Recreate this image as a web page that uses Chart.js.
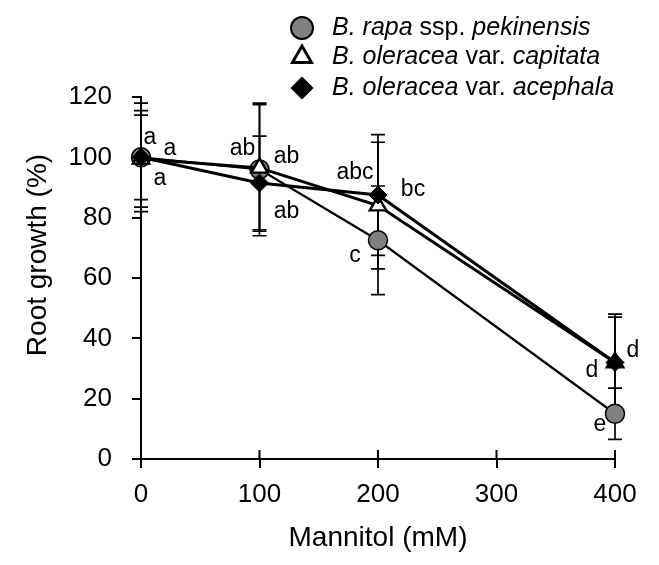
<!DOCTYPE html>
<html>
<head>
<meta charset="utf-8">
<script src="https://cdn.jsdelivr.net/npm/chart.js@4.4.1/dist/chart.umd.min.js"></script>
<style>
  html, body { margin: 0; padding: 0; background: #fff; }
  #wrap { width: 659px; height: 565px; }
</style>
</head>
<body>
<div id="wrap"><canvas id="chart" width="659" height="565"></canvas></div>
<script>
'use strict';

// data (root growth % vs mannitol mM)
const mannitol = [0, 100, 200, 400];
const xTicks = [0, 100, 200, 300, 400];
const yTicks = [0, 20, 40, 60, 80, 100, 120];

const rapaMean = [100, 96, 72.5, 15];
const rapaErr  = [18, 22, 18, 8.5];
const rapaLetters = ['a', 'ab', 'c', 'e'];

const capitataMean = [99.5, 96.5, 84, 32];
const capitataErr  = [16, 21, 21, 16];
const capitataLetters = ['a', 'ab', 'abc', 'd'];

const acephalaMean = [100, 91.5, 87.5, 32];
const acephalaErr  = [14, 15.5, 20, 15];
const acephalaLetters = ['a', 'ab', 'bc', 'd'];

// legend text pieces: [text, italic]
const rapaName     = [['B. rapa', true], [' ssp. ', false], ['pekinensis', true]];
const capitataName = [['B. oleracea', true], [' var. ', false], ['capitata', true]];
const acephalaName = [['B. oleracea', true], [' var. ', false], ['acephala', true]];

const FONT = '"Liberation Sans", Arial, Helvetica, sans-serif';

const toPoints = (xs, ys) => xs.map((x, i) => ({ x, y: ys[i] }));

// pixel nudges for the significance letters, per dataset, per point
const letterOffsets = [
  [[29, -9], [-17, -21], [-23, 15], [-15, 11]],   // rapa
  [[19, 20], [27, -11], [-23, -33], [18, -12]],   // capitata
  [[9, -20], [27, 29], [35, -5], [-23, 8]]        // acephala
];

const errorBars = {
  id: 'errorBars',
  beforeDatasetsDraw(chart) {
    const { ctx, scales: { x, y } } = chart;
    ctx.save();
    ctx.strokeStyle = '#000';
    ctx.lineWidth = 1.7;
    chart.data.datasets.forEach(ds => {
      ds.data.forEach((p, i) => {
        const px = x.getPixelForValue(p.x);
        const top = y.getPixelForValue(p.y + ds.err[i]);
        const bot = y.getPixelForValue(p.y - ds.err[i]);
        ctx.beginPath();
        ctx.moveTo(px, top); ctx.lineTo(px, bot);
        ctx.moveTo(px - 7, top); ctx.lineTo(px + 7, top);
        ctx.moveTo(px - 7, bot); ctx.lineTo(px + 7, bot);
        ctx.stroke();
      });
    });
    ctx.restore();
  }
};

const extras = {
  id: 'extras',
  afterDraw(chart) {
    const { ctx, scales: { x, y } } = chart;
    ctx.save();

    // inner half of the x-axis ticks (they cross the axis)
    ctx.strokeStyle = '#000';
    ctx.lineWidth = 2;
    const ay = y.getPixelForValue(0);
    xTicks.forEach(v => {
      const px = x.getPixelForValue(v);
      ctx.beginPath(); ctx.moveTo(px, ay); ctx.lineTo(px, ay - 9); ctx.stroke();
    });

    // significance letters
    ctx.fillStyle = '#000';
    ctx.font = `23px ${FONT}`;
    ctx.textAlign = 'center';
    ctx.textBaseline = 'middle';
    chart.data.datasets.forEach((ds, d) => {
      ds.data.forEach((p, i) => {
        const [dx, dy] = letterOffsets[d][i];
        ctx.fillText(ds.letters[i], x.getPixelForValue(p.x) + dx, y.getPixelForValue(p.y) + dy);
      });
    });

    // y axis title
    ctx.save();
    ctx.translate(38, 255);
    ctx.rotate(-Math.PI / 2);
    ctx.font = `28px ${FONT}`;
    ctx.fillText('Root growth (%)', 0, 0);
    ctx.restore();

    // legend
    const rows = [[28, 0], [57, 1], [88, 2]];
    ctx.textAlign = 'left';
    rows.forEach(([ly, d]) => {
      const ds = chart.data.datasets[d];
      ctx.fillStyle = ds.pointBackgroundColor;
      ctx.strokeStyle = '#000';
      ctx.lineWidth = ds.pointBorderWidth + 0.5;
      Chart.helpers.drawPoint(ctx, {
        pointStyle: ds.pointStyle, radius: ds.pointRadius + 1.5,
        rotation: 0, borderWidth: ds.pointBorderWidth
      }, 302, ly);
      let tx = 332;
      ctx.fillStyle = '#000';
      ds.nameParts.forEach(([t, it]) => {
        ctx.font = `${it ? 'italic ' : ''}25px ${FONT}`;
        ctx.fillText(t, tx, ly);
        tx += ctx.measureText(t).width;
      });
    });

    ctx.restore();
  }
};

new Chart(document.getElementById('chart').getContext('2d'), {
  type: 'line',
  data: {
    datasets: [
      {
        label: 'B. rapa ssp. pekinensis',
        data: toPoints(mannitol, rapaMean),
        err: rapaErr, letters: rapaLetters, nameParts: rapaName,
        borderColor: '#000', borderWidth: 2.2, clip: false,
        pointStyle: 'circle', pointRadius: 9.5,
        pointBackgroundColor: '#808080', pointBorderColor: '#000', pointBorderWidth: 1.5,
        order: 3
      },
      {
        label: 'B. oleracea var. capitata',
        data: toPoints(mannitol, capitataMean),
        err: capitataErr, letters: capitataLetters, nameParts: capitataName,
        borderColor: '#000', borderWidth: 3, clip: false,
        pointStyle: 'triangle', pointRadius: 9.5,
        pointBackgroundColor: '#fff', pointBorderColor: '#000', pointBorderWidth: 2.4,
        order: 2
      },
      {
        label: 'B. oleracea var. acephala',
        data: toPoints(mannitol, acephalaMean),
        err: acephalaErr, letters: acephalaLetters, nameParts: acephalaName,
        borderColor: '#000', borderWidth: 3, clip: false,
        pointStyle: 'rectRot', pointRadius: 9,
        pointBackgroundColor: '#000', pointBorderColor: '#000', pointBorderWidth: 1,
        order: 1
      }
    ]
  },
  options: {
    responsive: false,
    animation: false,
    devicePixelRatio: 1,
    layout: { padding: { left: 0, right: 44, top: 97, bottom: 0 } },
    plugins: { legend: { display: false }, tooltip: { enabled: false } },
    elements: { line: { tension: 0 } },
    scales: {
      x: {
        type: 'linear', min: 0, max: 400,
        afterBuildTicks: s => { s.ticks = xTicks.map(v => ({ value: v })); },
        afterFit: s => { s.height = 106; },
        grid: { drawOnChartArea: false, tickLength: 9, color: '#000', lineWidth: 2 },
        border: { color: '#000', width: 2 },
        ticks: { color: '#000', font: { size: 26, family: FONT }, padding: 11, maxRotation: 0 },
        title: {
          display: true, text: 'Mannitol (mM)', color: '#000',
          font: { size: 28, family: FONT }, padding: { top: 0, bottom: 10 }
        }
      },
      y: {
        type: 'linear', min: 0, max: 120,
        afterBuildTicks: s => { s.ticks = yTicks.map(v => ({ value: v })); },
        afterFit: s => { s.width = 141; },
        grid: { drawOnChartArea: false, tickLength: 9, color: '#000', lineWidth: 2 },
        border: { color: '#000', width: 2 },
        ticks: { color: '#000', font: { size: 26, family: FONT }, padding: 20 }
      }
    }
  },
  plugins: [errorBars, extras]
});
</script>
</body>
</html>
